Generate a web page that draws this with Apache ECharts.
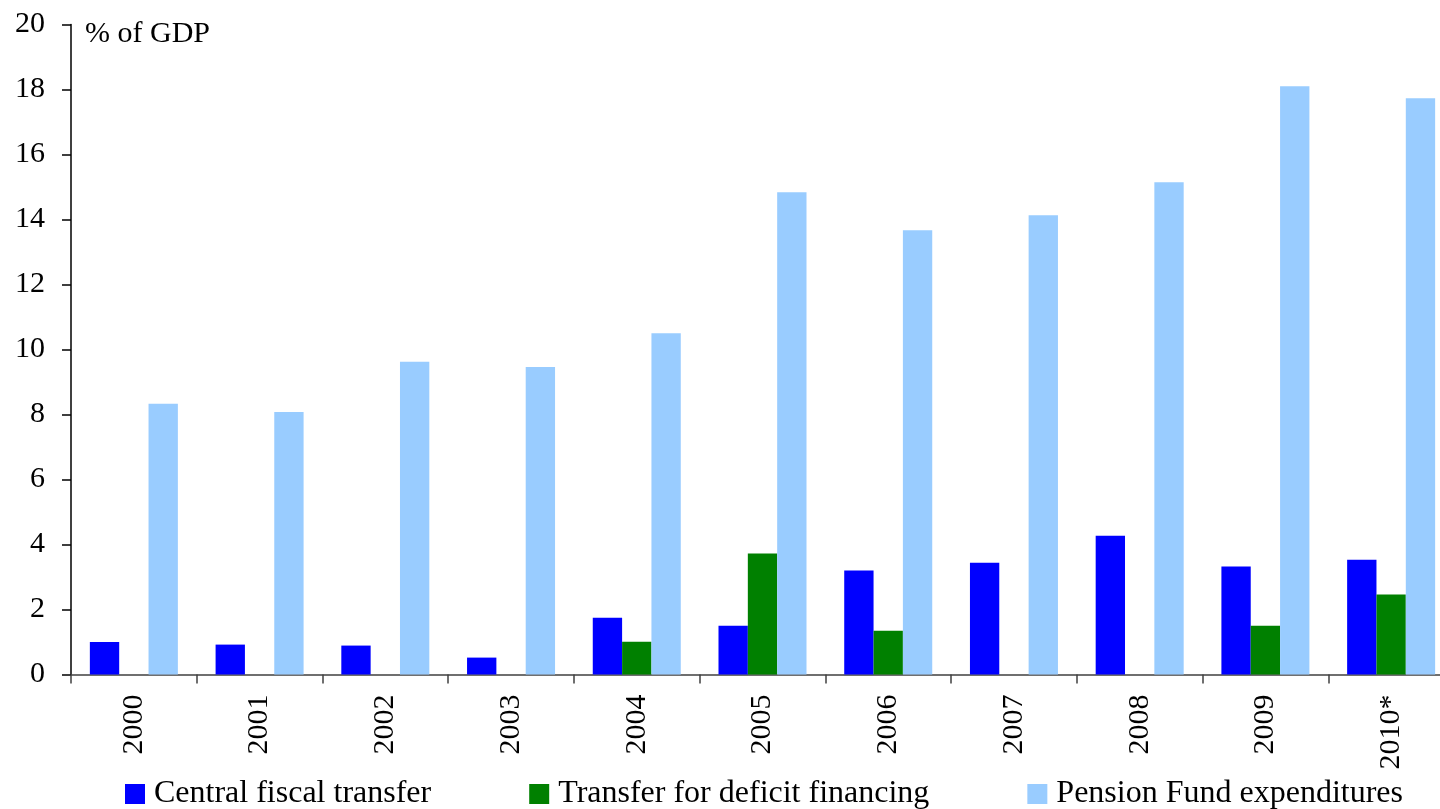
<!DOCTYPE html>
<html>
<head>
<meta charset="utf-8">
<script src="https://cdn.jsdelivr.net/npm/echarts@6/dist/echarts.min.js"></script>
<style>
  html, body { margin: 0; padding: 0; background: #fff; overflow: hidden; }
  #chart { width: 1460px; height: 809px; }
</style>
</head>
<body>
<div id="chart"></div>
<script>
// Pension fund financing, % of GDP
const years = ['2000', '2001', '2002', '2003', '2004', '2005', '2006', '2007', '2008', '2009', '2010*'];
const centralTransfer = [1.0, 0.92, 0.89, 0.52, 1.75, 1.5, 3.2, 3.44, 4.27, 3.32, 3.53];
const deficitTransfer = [null, null, null, null, 1.01, 3.72, 1.35, null, null, 1.5, 2.46];
const pensionExpenditures = [8.33, 8.08, 9.62, 9.46, 10.5, 14.84, 13.67, 14.13, 15.15, 18.1, 17.73];
const yTicks = { min: 0, max: 20, interval: 2 };

const FONT = '"Liberation Serif", "Times New Roman", serif';

const chart = echarts.init(document.getElementById('chart'), null, { renderer: 'canvas' });

chart.setOption({
  animation: false,
  backgroundColor: '#ffffff',
  textStyle: { fontFamily: FONT },
  grid: { left: 71, top: 24.5, width: 1383, height: 650, containLabel: false },
  graphic: [{
    type: 'text',
    left: 85,
    top: 19,
    style: { text: '% of GDP', font: '30px ' + FONT, fill: '#000' }
  }],
  legend: {
    top: 778,
    left: 125,
    padding: 0,
    itemWidth: 20,
    itemHeight: 20,
    itemGap: 98,
    icon: 'rect',
    textStyle: { fontFamily: FONT, fontSize: 32, color: '#000', padding: [0, 0, 0, 4] },
    data: ['Central fiscal transfer', 'Transfer for deficit financing', 'Pension Fund expenditures']
  },
  xAxis: {
    type: 'category',
    data: years,
    axisLine: { lineStyle: { color: '#404040', width: 1.5 } },
    axisTick: { show: true, length: 9, alignWithLabel: false, lineStyle: { color: '#404040', width: 1.5 } },
    axisLabel: { rotate: 90, margin: 20, fontFamily: FONT, fontSize: 30, color: '#000' },
    splitLine: { show: false }
  },
  yAxis: {
    type: 'value',
    min: yTicks.min,
    max: yTicks.max,
    interval: yTicks.interval,
    axisLine: { show: true, lineStyle: { color: '#000', width: 1.5 } },
    axisTick: { show: true, length: 9, lineStyle: { color: '#000', width: 1.5 } },
    axisLabel: { margin: 26, fontFamily: FONT, fontSize: 30, color: '#000' },
    splitLine: { show: false }
  },
  series: [
    {
      name: 'Central fiscal transfer',
      type: 'bar',
      data: centralTransfer,
      itemStyle: { color: '#0000ff' },
      barGap: '0%',
      barCategoryGap: '30%'
    },
    {
      name: 'Transfer for deficit financing',
      type: 'bar',
      data: deficitTransfer,
      itemStyle: { color: '#008000' },
      barGap: '0%',
      barCategoryGap: '30%'
    },
    {
      name: 'Pension Fund expenditures',
      type: 'bar',
      data: pensionExpenditures,
      itemStyle: { color: '#99ccff' },
      barGap: '0%',
      barCategoryGap: '30%'
    }
  ]
});
</script>
</body>
</html>
